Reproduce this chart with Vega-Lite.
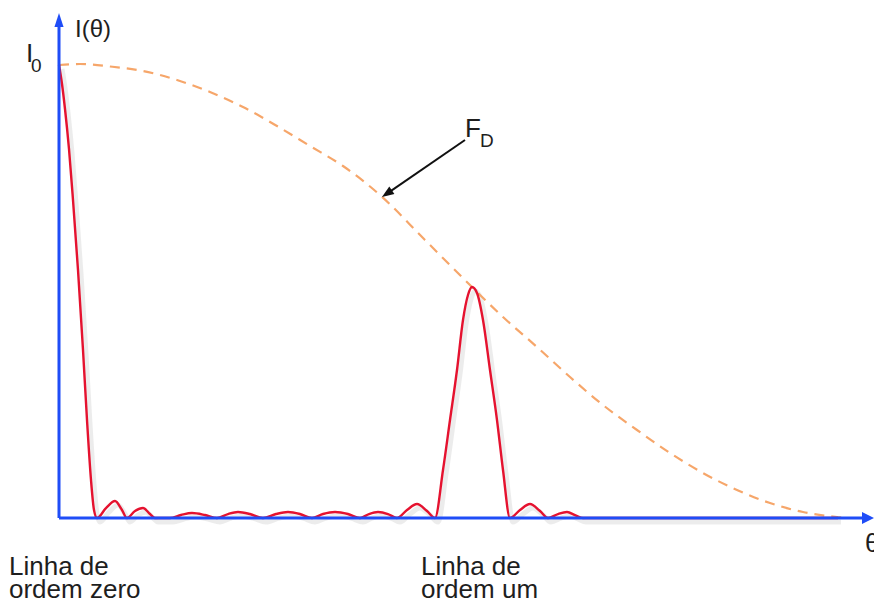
{
  "$schema": "https://vega.github.io/schema/vega-lite/v6.json",
  "width": 874,
  "height": 604,
  "autosize": {"type": "none"},
  "padding": 0,
  "background": "white",
  "config": {"view": {"stroke": null}, "text": {"font": "Liberation Sans"}},
  "datasets": {
    "pattern": [
      {"theta": 0, "I": 1.0}, {"theta": 3, "I": 0.9581}, {"theta": 6, "I": 0.9029}, {"theta": 10, "I": 0.8146},
      {"theta": 14, "I": 0.7020}, {"theta": 19, "I": 0.5475}, {"theta": 24, "I": 0.3709}, {"theta": 28, "I": 0.2163},
      {"theta": 32, "I": 0.0839}, {"theta": 35, "I": 0.0177}, {"theta": 38, "I": 0},
      {"theta": 47, "I": 0.022}, {"theta": 56, "I": 0.0375}, {"theta": 63, "I": 0.0177}, {"theta": 68, "I": 0},
      {"theta": 76, "I": 0.0155}, {"theta": 84, "I": 0.0221}, {"theta": 91, "I": 0.0088}, {"theta": 96, "I": 0},
      {"theta": 111, "I": 0}, {"theta": 122, "I": 0.0066}, {"theta": 133, "I": 0.011}, {"theta": 146, "I": 0.0066},
      {"theta": 158, "I": 0}, {"theta": 169, "I": 0.0088}, {"theta": 179, "I": 0.0132}, {"theta": 191, "I": 0.0088},
      {"theta": 204, "I": 0}, {"theta": 217, "I": 0.0088}, {"theta": 229, "I": 0.0132}, {"theta": 241, "I": 0.0088},
      {"theta": 253, "I": 0}, {"theta": 264, "I": 0.0088}, {"theta": 276, "I": 0.0132}, {"theta": 289, "I": 0.0088},
      {"theta": 301, "I": 0}, {"theta": 310, "I": 0.0088}, {"theta": 319, "I": 0.0132}, {"theta": 329, "I": 0.0088},
      {"theta": 338, "I": 0}, {"theta": 348, "I": 0.0177}, {"theta": 358, "I": 0.0309}, {"theta": 368, "I": 0.0155},
      {"theta": 376, "I": 0}, {"theta": 384, "I": 0.106}, {"theta": 391, "I": 0.2163}, {"theta": 398, "I": 0.3267},
      {"theta": 404, "I": 0.4371}, {"theta": 409, "I": 0.4923}, {"theta": 413, "I": 0.5099}, {"theta": 418, "I": 0.4967},
      {"theta": 424, "I": 0.4371}, {"theta": 431, "I": 0.3267}, {"theta": 438, "I": 0.2163}, {"theta": 444, "I": 0.106},
      {"theta": 451, "I": 0}, {"theta": 461, "I": 0.0177}, {"theta": 471, "I": 0.0309}, {"theta": 481, "I": 0.0155},
      {"theta": 489, "I": 0}, {"theta": 499, "I": 0.0088}, {"theta": 508, "I": 0.0132}, {"theta": 516, "I": 0.0066},
      {"theta": 524, "I": 0}, {"theta": 779, "I": 0}
    ],
    "envelope": [
      {"theta": 0, "I": 1.0}, {"theta": 21, "I": 1.0022}, {"theta": 51, "I": 0.9967}, {"theta": 84, "I": 0.9868},
      {"theta": 118, "I": 0.9669}, {"theta": 151, "I": 0.9404}, {"theta": 184, "I": 0.9073}, {"theta": 218, "I": 0.8653},
      {"theta": 251, "I": 0.8212}, {"theta": 284, "I": 0.7770}, {"theta": 321, "I": 0.713}, {"theta": 366, "I": 0.6137},
      {"theta": 413, "I": 0.5099}, {"theta": 444, "I": 0.4437}, {"theta": 478, "I": 0.3775}, {"theta": 511, "I": 0.3113},
      {"theta": 544, "I": 0.2494}, {"theta": 578, "I": 0.1943}, {"theta": 611, "I": 0.1435}, {"theta": 644, "I": 0.0993},
      {"theta": 678, "I": 0.0618}, {"theta": 711, "I": 0.0331}, {"theta": 744, "I": 0.0132}, {"theta": 778, "I": 0.0022},
      {"theta": 789, "I": 0}
    ],
    "axes": [
      {"theta": 0, "I": 0, "theta2": 0, "I2": 1.086},
      {"theta": 0, "I": 0, "theta2": 803, "I2": 0}
    ],
    "yhead": [{"theta": 0, "I": 1.0993}],
    "xhead": [{"theta": 809, "I": 0}],
    "pointer": [{"theta": 406, "I": 0.8344, "theta2": 328, "I2": 0.716}],
    "pointerhead": [{"theta": 327.9, "I": 0.7161}],
    "bigtext": [
      {"theta": -33, "I": 1.0066, "label": "I"},
      {"theta": 406, "I": 0.8411, "label": "F"},
      {"theta": 806, "I": -0.0751, "label": "θ"},
      {"theta": -50, "I": -0.1258, "label": "Linha de"},
      {"theta": -50, "I": -0.1766, "label": "ordem zero"},
      {"theta": 362, "I": -0.1258, "label": "Linha de"},
      {"theta": 362, "I": -0.1766, "label": "ordem um"}
    ],
    "subtext": [
      {"theta": -28, "I": 0.9845, "label": "0"},
      {"theta": 421, "I": 0.819, "label": "D"}
    ],
    "axistitle": [{"theta": 16, "I": 1.0618, "label": "I(θ)"}]
  },
  "encoding": {
    "x": {"field": "theta", "type": "quantitative", "axis": null, "scale": {"domain": [-59, 815], "nice": false, "zero": false}},
    "y": {"field": "I", "type": "quantitative", "axis": null, "scale": {"domain": [-0.1898, 1.1435], "nice": false, "zero": false}}
  },
  "layer": [
    {
      "data": {"name": "pattern"},
      "mark": {"type": "line", "color": "#888888", "opacity": 0.16, "strokeWidth": 5, "interpolate": "monotone", "xOffset": 3, "yOffset": 4}
    },
    {
      "data": {"name": "envelope"},
      "mark": {"type": "line", "color": "#f6a66a", "strokeWidth": 2.2, "strokeDash": [10, 7], "interpolate": "monotone"}
    },
    {
      "data": {"name": "pattern"},
      "mark": {"type": "line", "color": "#e5122f", "strokeWidth": 2.4, "interpolate": "monotone"}
    },
    {
      "data": {"name": "axes"},
      "mark": {"type": "rule", "color": "#1f4df7", "strokeWidth": 3},
      "encoding": {"x2": {"field": "theta2"}, "y2": {"field": "I2"}}
    },
    {
      "data": {"name": "yhead"},
      "mark": {"type": "point", "shape": "M0,-1L0.65,1L-0.65,1Z", "size": 196, "filled": true, "color": "#1f4df7", "opacity": 1}
    },
    {
      "data": {"name": "xhead"},
      "mark": {"type": "point", "shape": "M1,0L-1,-1L-1,1Z", "size": 144, "filled": true, "color": "#1f4df7", "opacity": 1}
    },
    {
      "data": {"name": "pointer"},
      "mark": {"type": "rule", "color": "#111111", "strokeWidth": 2},
      "encoding": {"x2": {"field": "theta2"}, "y2": {"field": "I2"}}
    },
    {
      "data": {"name": "pointerhead"},
      "mark": {"type": "point", "shape": "M1,0L-1,-0.75L-1,0.75Z", "size": 144, "angle": 145.5, "filled": true, "color": "#111111", "opacity": 1}
    },
    {
      "data": {"name": "bigtext"},
      "mark": {"type": "text", "align": "left", "baseline": "alphabetic", "fontSize": 26, "color": "#1e1e1e"},
      "encoding": {"text": {"field": "label"}}
    },
    {
      "data": {"name": "subtext"},
      "mark": {"type": "text", "align": "left", "baseline": "alphabetic", "fontSize": 19, "color": "#1e1e1e"},
      "encoding": {"text": {"field": "label"}}
    },
    {
      "data": {"name": "axistitle"},
      "mark": {"type": "text", "align": "left", "baseline": "alphabetic", "fontSize": 24, "color": "#1e1e1e"},
      "encoding": {"text": {"field": "label"}}
    }
  ]
}
